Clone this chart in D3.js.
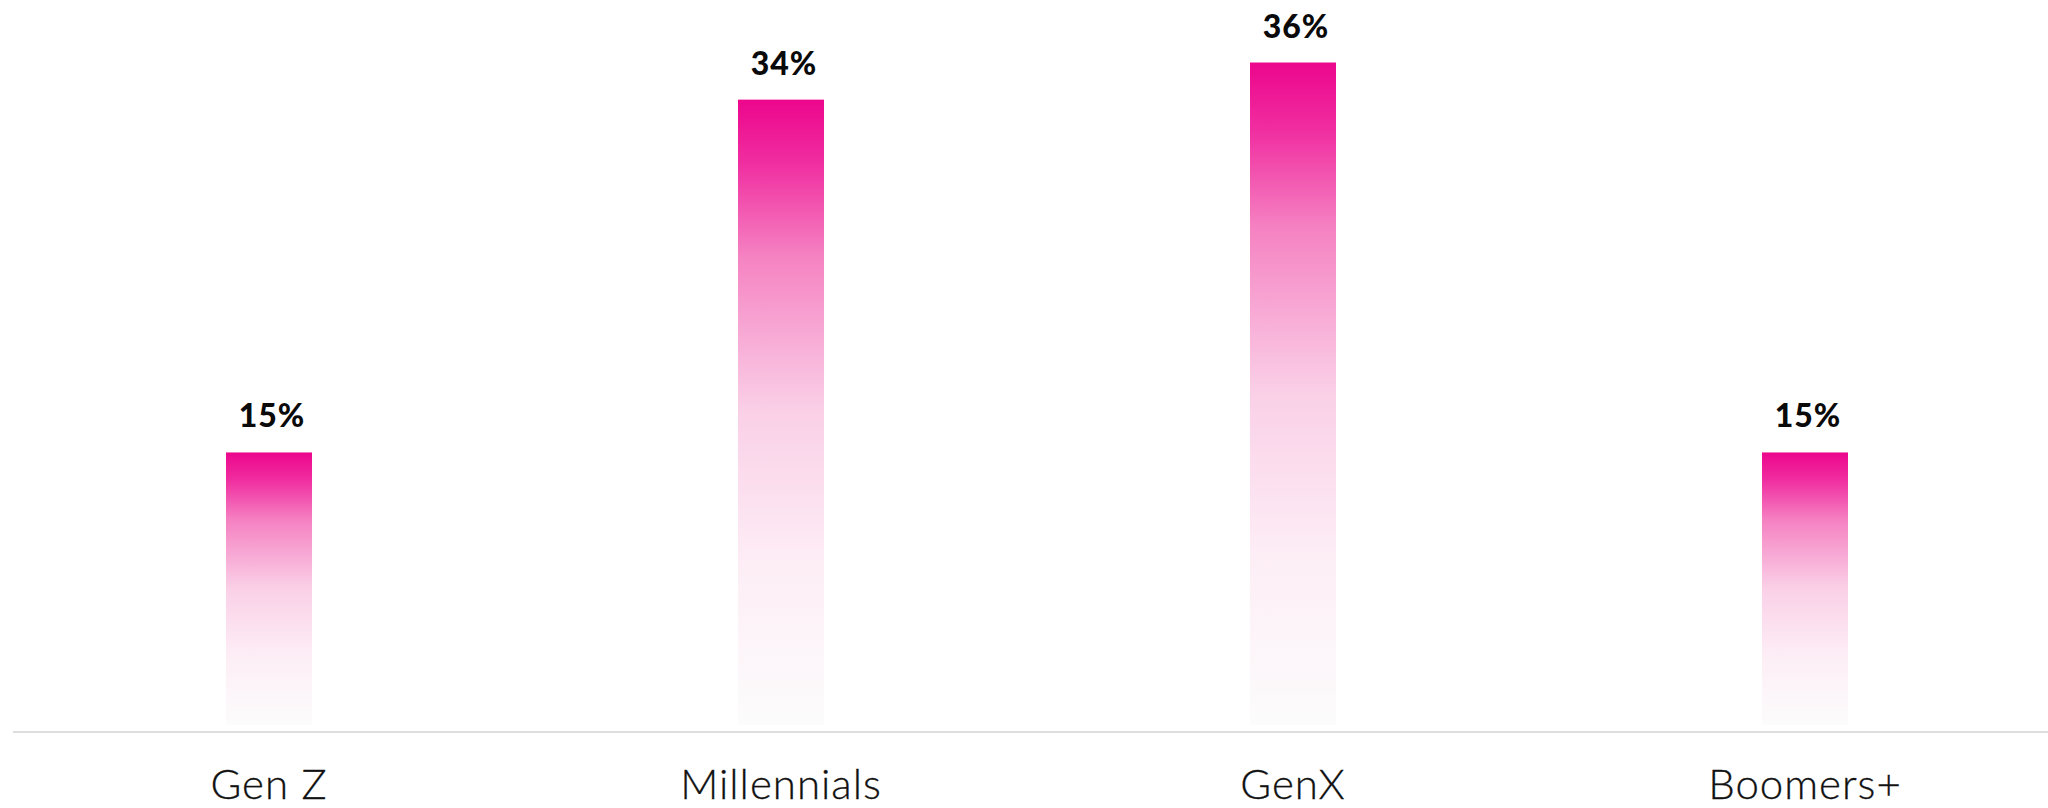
<!DOCTYPE html>
<html>
<head>
<meta charset="utf-8">
<script src="https://cdn.jsdelivr.net/npm/d3@7"></script>
<style>
  html, body { margin: 0; padding: 0; background: #ffffff; }
  svg { display: block; }
</style>
</head>
<body>
<svg id="chart" width="2048" height="808"></svg>
<script>
// Share of respondents by generation
const categories = ["Gen Z", "Millennials", "GenX", "Boomers+"];
const values = [15, 34, 36, 15];
const valueLabels = ["15%", "34%", "36%", "15%"];

const W = 2048, H = 808;
const svg = d3.select("#chart");

const x = d3.scaleBand()
  .domain(categories)
  .range([13, 2061])
  .paddingInner(0.832)
  .paddingOuter(0.416);

const y = d3.scaleLinear()
  .domain([0, 36])
  .range([731, 62.5]);

// Vertical fade from magenta at the top of each bar to near-white at its foot
const defs = svg.append("defs");
const grad = defs.append("linearGradient")
  .attr("id", "barFade")
  .attr("x1", 0).attr("y1", 0)
  .attr("x2", 0).attr("y2", 1);
[
  [0.00, "#ec068c"],
  [0.10, "#f02da0"],
  [0.25, "#f582c2"],
  [0.50, "#fad0e7"],
  [0.75, "#fdeef6"],
  [1.00, "#fcfcfc"]
].forEach(([o, c]) => grad.append("stop").attr("offset", o).attr("stop-color", c));

const data = categories.map((c, i) => ({ cat: c, value: values[i], label: valueLabels[i] }));

// Bars stop a few pixels above the axis line
const footGap = 6;
svg.append("g").selectAll("rect")
  .data(data)
  .join("rect")
  .attr("x", d => x(d.cat))
  .attr("y", d => y(d.value))
  .attr("width", x.bandwidth())
  .attr("height", d => y(0) - y(d.value) - footGap)
  .attr("fill", "url(#barFade)");

// Value labels above bars
svg.append("g").selectAll("text")
  .data(data)
  .join("text")
  .attr("x", d => x(d.cat) + x.bandwidth() / 2 + 3)
  .attr("y", d => y(d.value) - 25)
  .attr("text-anchor", "middle")
  .attr("font-family", "Lato, 'Open Sans', sans-serif")
  .attr("font-weight", 900)
  .attr("font-size", 32)
  .attr("letter-spacing", 1)
  .attr("fill", "#0a0a0a")
  .text(d => d.label);

// Baseline axis
const axis = d3.axisBottom(x).tickSize(0).tickPadding(0);
const gAxis = svg.append("g")
  .attr("transform", `translate(0, ${y(0) + 1})`)
  .call(axis);
gAxis.select(".domain")
  .attr("d", `M13,0H${W}`)
  .attr("stroke", "#dddddd")
  .attr("stroke-width", 2);
gAxis.selectAll(".tick text")
  .attr("dy", 0)
  .attr("y", 67)
  .attr("font-family", "Lato, 'Open Sans', sans-serif")
  .attr("font-weight", 300)
  .attr("font-size", 42)
  .attr("letter-spacing", 1)
  .attr("stroke", "#111111")
  .attr("stroke-width", 0.3)
  .attr("fill", "#111111");
</script>
</body>
</html>
